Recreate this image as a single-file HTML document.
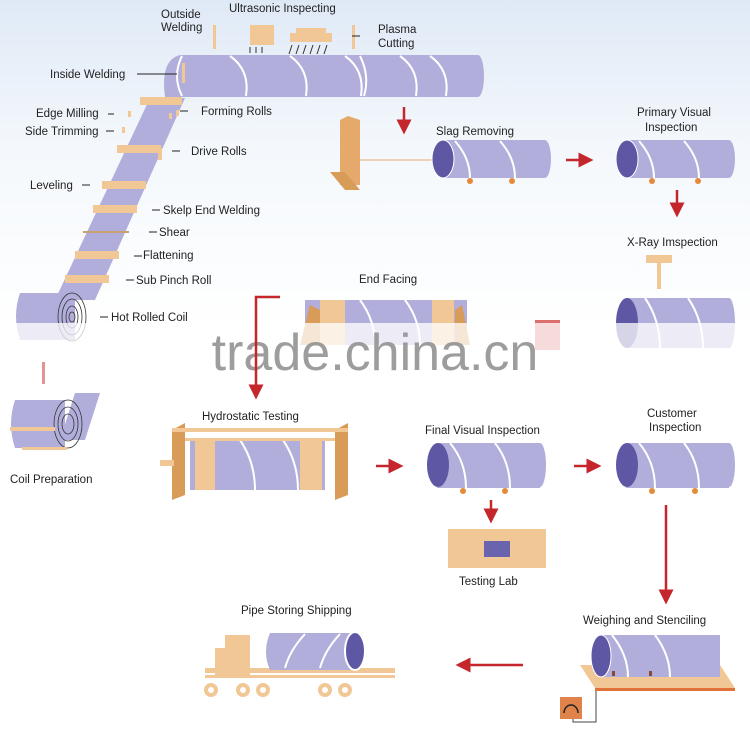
<!DOCTYPE html>
<html><head><meta charset="utf-8"><style>
html,body{margin:0;padding:0;background:#fff;}
svg{display:block;font-family:"Liberation Sans",Arial,sans-serif;}
</style></head><body>
<svg width="750" height="735" viewBox="0 0 750 735" xmlns="http://www.w3.org/2000/svg">
<defs>
<linearGradient id="bg" x1="0" y1="0" x2="0" y2="1">
<stop offset="0" stop-color="#dfe9f6"/><stop offset="0.45" stop-color="#f4f8fc"/><stop offset="1" stop-color="#fff"/>
</linearGradient>
<marker id="ar" markerWidth="6" markerHeight="6" refX="3" refY="3" orient="auto" markerUnits="strokeWidth"><path d="M0,0L6,3L0,6z" fill="#c4262c"/></marker>
</defs>
<rect width="750" height="735" fill="#fff"/>
<rect width="750" height="330" fill="url(#bg)"/>

<polygon points="150,98 185,98 95,300 55,300" fill="#b2aedc"/>
<path d="M180,55 H478 A6,21 0 0 1 478,97 H165 Q160,60 180,55Z" fill="#b2aedc"/>
<g stroke="#fff" stroke-width="2" fill="none">
<path d="M182,56 Q172,76 182,96"/>
<path d="M230,56 Q250,70 246,96"/><path d="M290,56 Q310,70 306,96"/><path d="M345,56 Q365,70 361,96"/>
<path d="M360,56 Q370,76 364,96"/><path d="M400,56 Q420,70 416,96"/><path d="M430,56 Q450,70 446,96"/>
</g>
<g fill="#f2c796">
<rect x="213" y="25" width="3" height="24"/>
<rect x="352" y="25" width="3" height="24"/>
<rect x="182" y="63" width="3" height="20"/>
<rect x="250" y="25" width="24" height="20"/><rect x="290" y="33" width="42" height="9"/><rect x="296" y="28" width="30" height="6"/>
<rect x="140" y="97" width="42" height="8"/>
<rect x="117" y="145" width="44" height="8"/>
<rect x="102" y="181" width="44" height="8"/>
<rect x="93" y="205" width="44" height="8"/>
<rect x="75" y="251" width="44" height="8"/>
<rect x="65" y="275" width="44" height="8"/>
<rect x="128" y="111" width="3" height="6"/><rect x="122" y="127" width="3" height="6"/>
<rect x="169" y="113" width="3" height="6"/><rect x="176" y="110" width="3" height="6"/>
<rect x="158" y="148" width="4" height="12"/>
</g>
<path d="M250,47v6M256,47v6M262,47v6M292,45l-3,9M299,45l-3,9M306,45l-3,9M313,45l-3,9M320,45l-3,9M327,45l-3,9" stroke="#333" stroke-width="1"/>
<rect x="83" y="231" width="46" height="2" fill="#c9a070"/>
<path d="M20,293 H75 V340 H20 Q12,316 20,293Z" fill="#b2aedc"/>
<g fill="none" stroke="#333" stroke-width="0.8"><ellipse cx="72" cy="317" rx="14" ry="24"/><ellipse cx="72" cy="317" rx="10" ry="18"/><ellipse cx="72" cy="317" rx="6" ry="11"/><ellipse cx="72" cy="317" rx="3" ry="5"/></g>

<g font-size="11.5" fill="#222">
<text x="161" y="18">Outside</text><text x="161" y="31">Welding</text>
<text x="229" y="12">Ultrasonic Inspecting</text>
<text x="378" y="33">Plasma</text><text x="378" y="47">Cutting</text>
<text x="50" y="78">Inside Welding</text>
<text x="36" y="117">Edge Milling</text><text x="25" y="135">Side Trimming</text>
<text x="201" y="115">Forming Rolls</text>
<text x="191" y="155">Drive Rolls</text>
<text x="30" y="189">Leveling</text>
<text x="163" y="214">Skelp End Welding</text>
<text x="159" y="236">Shear</text>
<text x="143" y="259">Flattening</text>
<text x="136" y="284">Sub Pinch Roll</text>
<text x="111" y="321">Hot Rolled Coil</text>
<text x="436" y="135">Slag Removing</text>
<text x="637" y="116">Primary Visual</text><text x="645" y="131">Inspection</text>
<text x="627" y="246">X-Ray Imspection</text>
<text x="359" y="283">End Facing</text>
<text x="202" y="420">Hydrostatic Testing</text>
<text x="425" y="434">Final Visual Inspection</text>
<text x="647" y="417">Customer</text><text x="649" y="431">Inspection</text>
<text x="459" y="585">Testing Lab</text>
<text x="583" y="624">Weighing and Stenciling</text>
<text x="241" y="614">Pipe Storing Shipping</text>
<text x="10" y="483">Coil Preparation</text>
</g>
<path d="M137,74h40M108,114h6M106,131h8M188,111h-8M180,151h-8M82,185h8M160,210h-8M157,232h-8M142,256h-8M134,280h-8M108,317h-8M360,36h-8" stroke="#222" stroke-width="1" fill="none"/>

<!-- slag removing -->
<polygon points="340,120 348,116 360,120 360,185 340,185" fill="#e5aa6b"/>
<polygon points="330,172 345,172 360,190 345,190" fill="#d99b58"/>
<line x1="360" y1="160" x2="435" y2="160" stroke="#e5aa6b" stroke-width="1"/>
<rect x="442" y="140" width="103" height="38" fill="#b2aedc"/><ellipse cx="545" cy="159" rx="6" ry="19" fill="#b2aedc"/>
<ellipse cx="443" cy="159" rx="11" ry="19" fill="#5e58a4" stroke="#fff"/>
<path d="M455,141 Q470,158 470,178M500,141 Q515,158 515,178" stroke="#fff" stroke-width="2" fill="none"/>
<circle cx="470" cy="181" r="3" fill="#e58a3a"/><circle cx="512" cy="181" r="3" fill="#e58a3a"/>
<!-- primary visual -->
<rect x="626" y="140" width="103" height="38" fill="#b2aedc"/><ellipse cx="729" cy="159" rx="6" ry="19" fill="#b2aedc"/>
<ellipse cx="627" cy="159" rx="11" ry="19" fill="#5e58a4" stroke="#fff"/>
<path d="M639,141 Q654,158 654,178M684,141 Q699,158 699,178" stroke="#fff" stroke-width="2" fill="none"/>
<circle cx="652" cy="181" r="3" fill="#e58a3a"/><circle cx="698" cy="181" r="3" fill="#e58a3a"/>
<!-- xray -->
<rect x="646" y="255" width="26" height="8" fill="#f2c796"/><rect x="657" y="263" width="4" height="26" fill="#f2c796"/>
<rect x="626" y="298" width="103" height="50" fill="#b2aedc"/><ellipse cx="729" cy="323" rx="6" ry="25" fill="#b2aedc"/>
<ellipse cx="627" cy="323" rx="11" ry="25" fill="#5e58a4"/>
<path d="M645,298 Q660,320 660,348M688,298 Q703,320 703,348" stroke="#fff" stroke-width="2" fill="none"/>
<!-- end facing -->
<rect x="305" y="300" width="162" height="45" fill="#b2aedc"/>
<rect x="320" y="300" width="25" height="45" fill="#f2c796"/><rect x="432" y="300" width="22" height="45" fill="#f2c796"/>
<polygon points="300,345 310,305 320,310 320,345" fill="#d99b58"/><polygon points="470,345 462,305 455,310 455,345" fill="#d99b58"/>
<path d="M360,300 Q375,320 375,345M405,300 Q420,320 420,345" stroke="#fff" stroke-width="2" fill="none"/>
<rect x="535" y="320" width="25" height="30" fill="#d54a4a" opacity="0.8"/>

<!-- watermark band -->
<rect x="0" y="323" width="750" height="30" fill="#fff" opacity="0.75"/>
<text x="375" y="370" font-size="52" text-anchor="middle" fill="#8d8d8d" opacity="0.85">trade.china.cn</text>

<!-- arrows -->
<g stroke="#c4262c" stroke-width="2.5" fill="none">
<path d="M404,107v20" marker-end="url(#ar)"/>
<path d="M566,160h20" marker-end="url(#ar)"/>
<path d="M677,190v20" marker-end="url(#ar)"/>
<path d="M280,297h-24v95" marker-end="url(#ar)"/>
<path d="M376,466h20" marker-end="url(#ar)"/>
<path d="M574,466h20" marker-end="url(#ar)"/>
<path d="M491,500v16" marker-end="url(#ar)"/>
<path d="M666,505v92" marker-end="url(#ar)"/>
<path d="M523,665h-60" marker-end="url(#ar)"/>
</g>
<rect x="42" y="362" width="3" height="22" fill="#d54a4a" opacity="0.6"/>

<!-- coil prep -->
<polygon points="75,393 100,393 85,440 60,440" fill="#b2aedc"/>
<path d="M15,400 H65 V448 H15 Q7,424 15,400Z" fill="#b2aedc"/>
<g fill="none" stroke="#333" stroke-width="0.8"><ellipse cx="68" cy="424" rx="14" ry="24"/><ellipse cx="68" cy="424" rx="10" ry="17"/><ellipse cx="68" cy="424" rx="6" ry="10"/></g>
<rect x="10" y="427" width="45" height="4" fill="#f2c796"/><rect x="22" y="447" width="45" height="3" fill="#f2c796"/>

<!-- hydrostatic -->
<rect x="190" y="440" width="135" height="50" fill="#b2aedc"/>
<rect x="195" y="440" width="20" height="50" fill="#f2c796"/><rect x="300" y="440" width="22" height="50" fill="#f2c796"/>
<path d="M240,440 Q255,462 255,490M283,440 Q298,462 298,490" stroke="#fff" stroke-width="2" fill="none"/>
<polygon points="172,430 185,423 185,495 172,500" fill="#d99b58"/><polygon points="335,430 348,423 348,495 335,500" fill="#d99b58"/>
<rect x="172" y="428" width="176" height="4" fill="#f2c796"/><rect x="185" y="438" width="150" height="3" fill="#f2c796"/>
<rect x="160" y="460" width="14" height="6" fill="#f2c796"/>
<!-- final visual -->
<rect x="437" y="443" width="103" height="45" fill="#b2aedc"/><ellipse cx="540" cy="465" rx="6" ry="22" fill="#b2aedc"/>
<ellipse cx="438" cy="465" rx="11" ry="22" fill="#5e58a4"/>
<path d="M450,443 Q466,462 466,488M495,443 Q510,462 510,488" stroke="#fff" stroke-width="2" fill="none"/>
<circle cx="463" cy="491" r="3" fill="#e58a3a"/><circle cx="505" cy="491" r="3" fill="#e58a3a"/>
<!-- customer -->
<rect x="626" y="443" width="103" height="45" fill="#b2aedc"/><ellipse cx="729" cy="465" rx="6" ry="22" fill="#b2aedc"/>
<ellipse cx="627" cy="465" rx="11" ry="22" fill="#5e58a4"/>
<path d="M639,443 Q655,462 655,488M684,443 Q699,462 699,488" stroke="#fff" stroke-width="2" fill="none"/>
<circle cx="652" cy="491" r="3" fill="#e58a3a"/><circle cx="695" cy="491" r="3" fill="#e58a3a"/>
<!-- testing lab -->
<rect x="448" y="529" width="98" height="39" fill="#f2c796"/>
<rect x="484" y="541" width="26" height="16" fill="#6a63ae"/>
<!-- weighing -->
<polygon points="580,665 720,665 735,688 595,688" fill="#f2c796"/>
<rect x="595" y="688" width="140" height="3" fill="#e0723a"/>
<rect x="600" y="635" width="120" height="42" fill="#b2aedc"/>
<ellipse cx="601" cy="656" rx="10" ry="21" fill="#5e58a4" stroke="#fff"/>
<path d="M612,635 Q628,655 628,677M655,635 Q670,655 670,677" stroke="#fff" stroke-width="2" fill="none"/>
<rect x="649" y="671" width="3" height="5" fill="#8a4a3a"/><rect x="612" y="671" width="3" height="5" fill="#8a4a3a"/>
<polyline points="596,691 596,722 573,722 573,715" fill="none" stroke="#444"/>
<rect x="560" y="697" width="22" height="22" fill="#e0834a"/>
<path d="M564,713 A7,8 0 0 1 578,713" stroke="#222" stroke-width="1.5" fill="none"/>
<!-- truck -->
<rect x="205" y="668" width="190" height="5" fill="#f2c796"/>
<rect x="215" y="648" width="35" height="28" fill="#f2c796"/>
<rect x="225" y="635" width="25" height="14" fill="#f2c796"/>
<rect x="205" y="675" width="190" height="3" fill="#f2c796"/>
<g fill="none" stroke="#f2c796" stroke-width="4">
<circle cx="211" cy="690" r="5"/><circle cx="243" cy="690" r="5"/><circle cx="263" cy="690" r="5"/><circle cx="325" cy="690" r="5"/><circle cx="345" cy="690" r="5"/>
</g>
<path d="M270,633 H355 V670 H270 Q262,652 270,633Z" fill="#b2aedc"/>
<ellipse cx="355" cy="651" rx="10" ry="19" fill="#5e58a4" stroke="#fff" stroke-width="2"/>
<path d="M305,634 Q290,650 285,668M340,634 Q325,650 320,668" stroke="#fff" stroke-width="2" fill="none"/>
</svg>
</body></html>
